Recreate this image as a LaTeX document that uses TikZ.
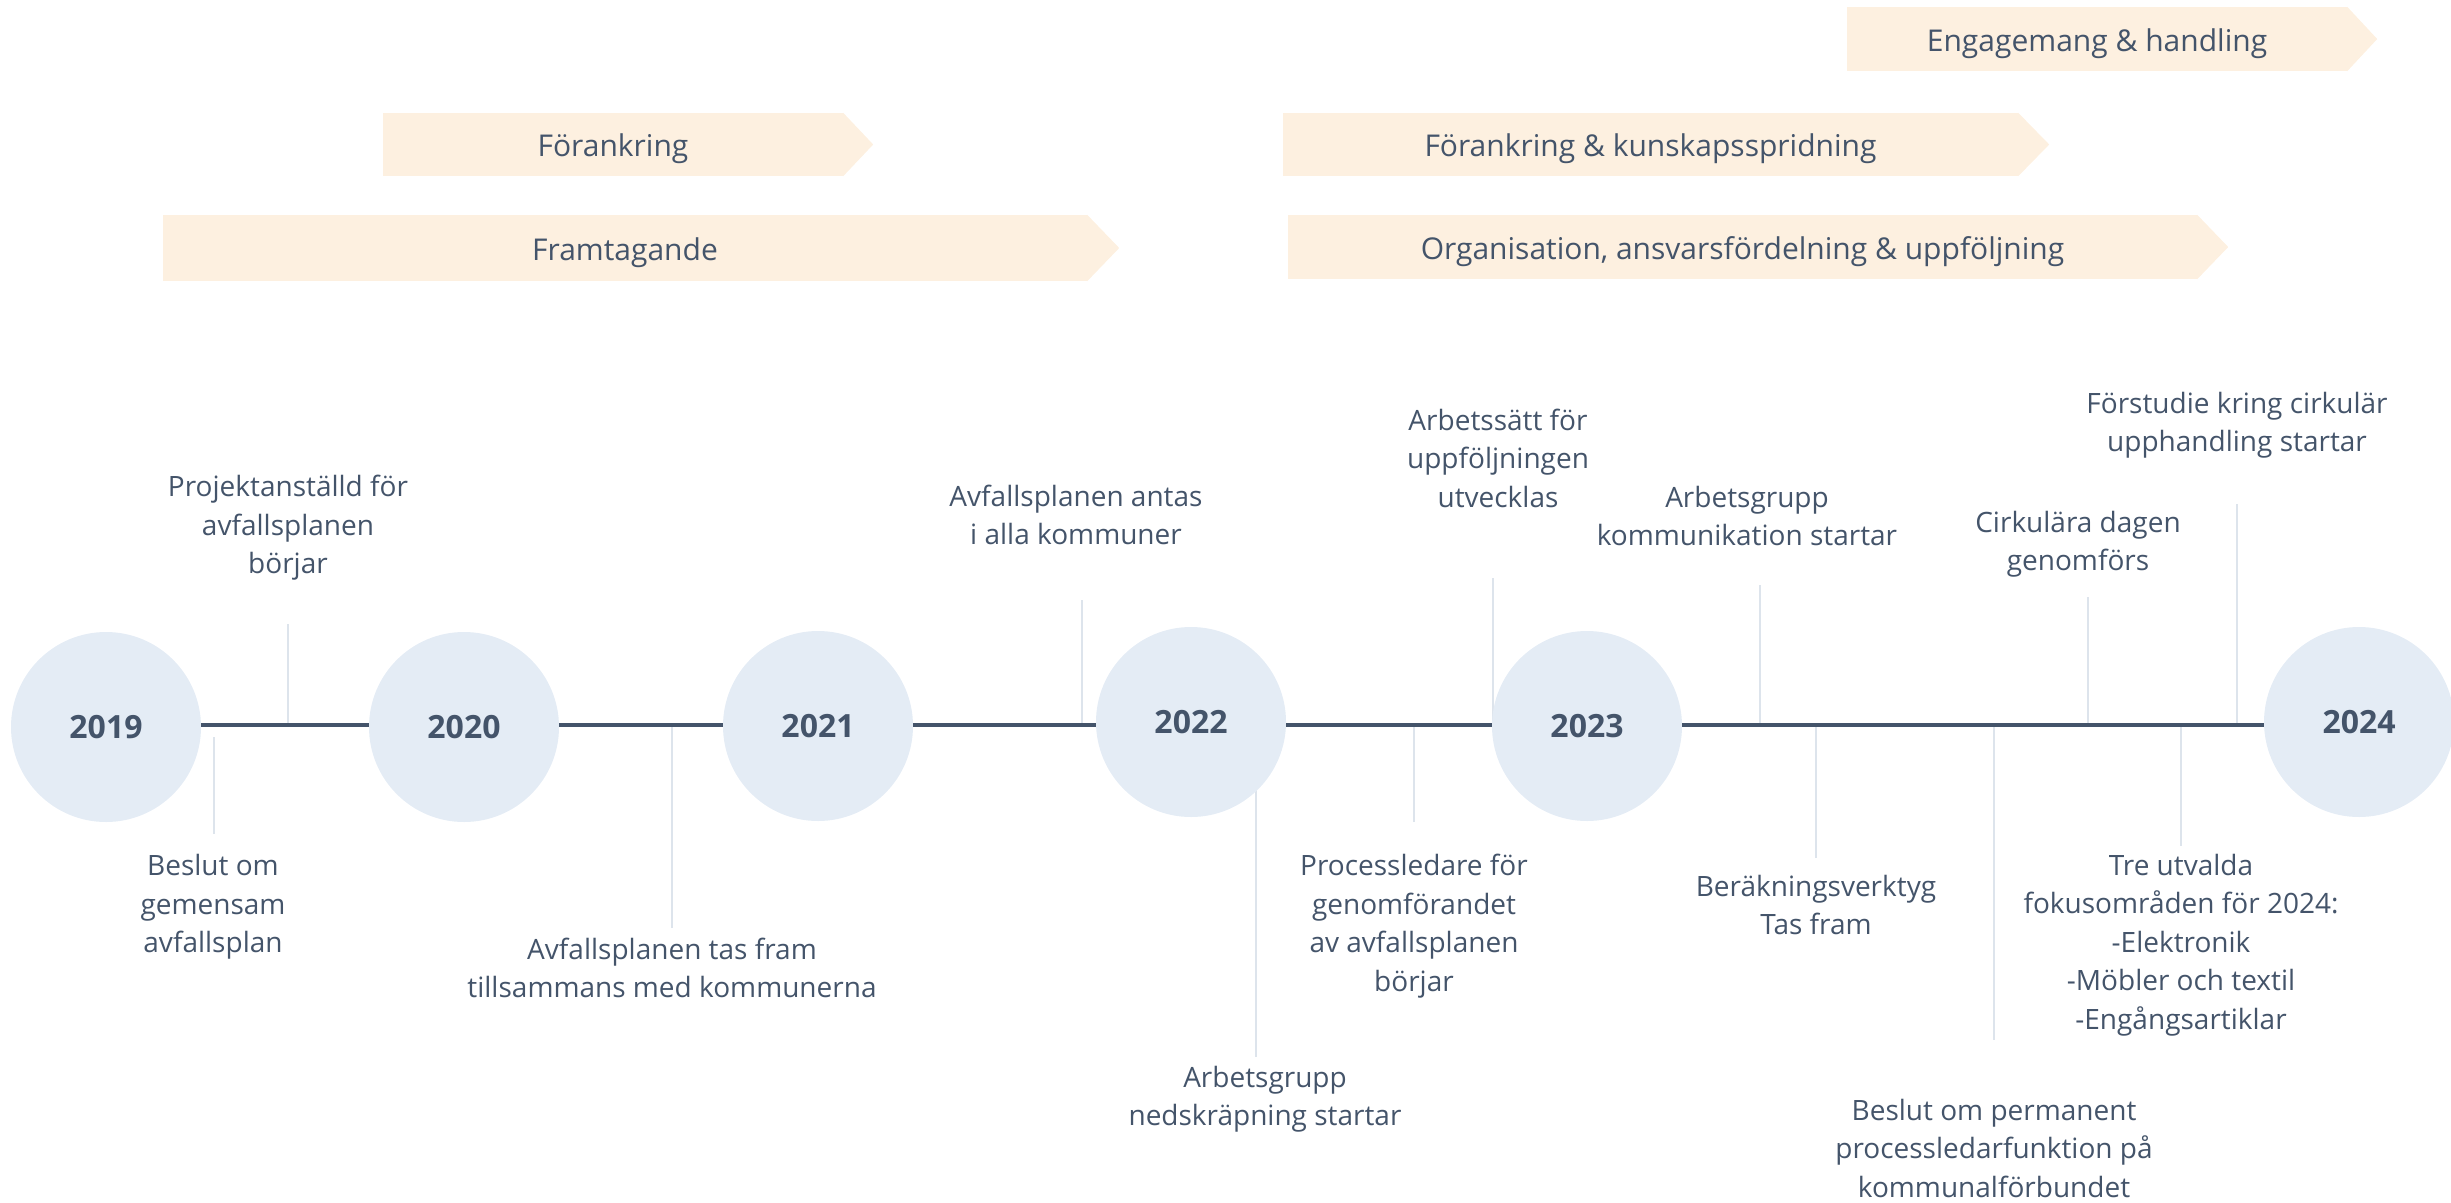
\documentclass[tikz,border=0pt]{standalone}
\usepackage{fontspec}
\setmainfont{Open Sans}
\usepackage{tikz}
\definecolor{slate}{HTML}{44546A}
\definecolor{bubble}{HTML}{E4ECF5}
\definecolor{peach}{HTML}{FDF0E0}
\definecolor{tickc}{HTML}{DDE4EC}

\begin{document}
\begin{tikzpicture}[x=1pt,y=-1pt,
  year/.style={circle,fill=bubble,minimum size=190pt,inner sep=0pt,text=slate,font=\fontsize{32}{38}\selectfont\bfseries},
  phase/.style={fill=peach,inner sep=0pt,text=slate,text height=28pt,text depth=4pt,font=\fontsize{30}{36}\selectfont},
  event/.style={align=center,inner sep=0pt,text=slate,font=\fontsize{28}{38.5}\selectfont},
  tick/.style={draw=tickc,line width=2pt},
  tline/.style={draw=slate,line width=4.5pt}]
\useasboundingbox (0,0) rectangle (2451,1202);

\node[phase,minimum width=500pt,minimum height=64pt] (eng) at (2097,39) {Engagemang \& handling};
\node[phase,minimum width=460pt,minimum height=63pt] (fk1) at (613,144.5) {Förankring};
\node[phase,minimum width=735pt,minimum height=63pt] (fk2) at (1650.5,144.5) {Förankring \& kunskapsspridning};
\node[phase,minimum width=924pt,minimum height=66pt] (fram) at (625,248) {Framtagande};
\node[phase,minimum width=909pt,minimum height=64pt] (org) at (1742.5,247) {Organisation, ansvarsfördelning \& uppföljning};
\fill[peach] (eng.north east) -- ([xshift=30pt]eng.east) -- (eng.south east) -- cycle;
\fill[peach] (fk1.north east) -- ([xshift=30pt]fk1.east) -- (fk1.south east) -- cycle;
\fill[peach] (fk2.north east) -- ([xshift=31pt]fk2.east) -- (fk2.south east) -- cycle;
\fill[peach] (fram.north east) -- ([xshift=32pt]fram.east) -- (fram.south east) -- cycle;
\fill[peach] (org.north east) -- ([xshift=31pt]org.east) -- (org.south east) -- cycle;

\node[event] (e1) at (288,528) {Projektanställd för\\avfallsplanen\\börjar};
\node[event] (e2) at (1076,515) {Avfallsplanen antas\\i alla kommuner};
\node[event] (e3) at (1498,458) {Arbetssätt för\\uppföljningen\\utvecklas};
\node[event] (e4) at (1747,516) {Arbetsgrupp\\kommunikation startar};
\node[event] (e5) at (2078,544) {Cirkulära dagen\\genomförs};
\node[event] (e6) at (2237,425) {Förstudie kring cirkulär\\upphandling startar};
\node[event] (e7) at (213,907) {Beslut om\\gemensam\\avfallsplan};
\node[event] (e8) at (672,968) {Avfallsplanen tas fram\\tillsammans med kommunerna};
\node[event] (e9) at (1265,1099) {Arbetsgrupp\\nedskräpning startar};
\node[event] (e10) at (1414,926) {Processledare för\\genomförandet\\av avfallsplanen\\börjar};
\node[event] (e11) at (1816,905) {Beräkningsverktyg\\Tas fram};
\node[event] (e12) at (1994,1148) {Beslut om permanent\\processledarfunktion på\\kommunalförbundet};
\node[event] (e13) at (2181,945) {Tre utvalda\\fokusområden för 2024:\\-Elektronik\\-Möbler och textil\\-Engångsartiklar};

\coordinate (base) at (0,725);
\coordinate (k1) at (288,624);
\coordinate (k2) at (1082,600);
\coordinate (k3) at (1493,578);
\coordinate (k4) at (1760,585);
\coordinate (k5) at (2088,597);
\coordinate (k6) at (2237,504);
\coordinate (k7) at (214,834);
\coordinate (k8) at (672,928);
\coordinate (k9) at (1256,1057);
\coordinate (k10) at (1414,822);
\coordinate (k11) at (1816,858);
\coordinate (k12) at (1994,1040);
\coordinate (k13) at (2181,846);
\draw[tick] (k1) -- (k1 |- base);
\draw[tick] (k2) -- (k2 |- base);
\draw[tick] (k3) -- (k3 |- base);
\draw[tick] (k4) -- (k4 |- base);
\draw[tick] (k5) -- (k5 |- base);
\draw[tick] (k6) -- (k6 |- base);
\draw[tick,shorten >=12pt] (k7) -- (k7 |- base);
\draw[tick] (k8) -- (k8 |- base);
\draw[tick] (k9) -- (k9 |- base);
\draw[tick] (k10) -- (k10 |- base);
\draw[tick] (k11) -- (k11 |- base);
\draw[tick] (k12) -- (k12 |- base);
\draw[tick] (k13) -- (k13 |- base);

\node[year] (y2019) at (106,727) {2019};
\node[year] (y2020) at (464,727) {2020};
\node[year] (y2021) at (818,726) {2021};
\node[year] (y2022) at (1191,722) {2022};
\node[year] (y2023) at (1587,726) {2023};
\node[year] (y2024) at (2359,722) {2024};

\draw[tline] (y2019.east |- base) -- (y2020.west |- base);
\draw[tline] (y2020.east |- base) -- (y2021.west |- base);
\draw[tline] (y2021.east |- base) -- (y2022.west |- base);
\draw[tline] (y2022.east |- base) -- (y2023.west |- base);
\draw[tline] (y2023.east |- base) -- (y2024.west |- base);
\end{tikzpicture}
\end{document}
